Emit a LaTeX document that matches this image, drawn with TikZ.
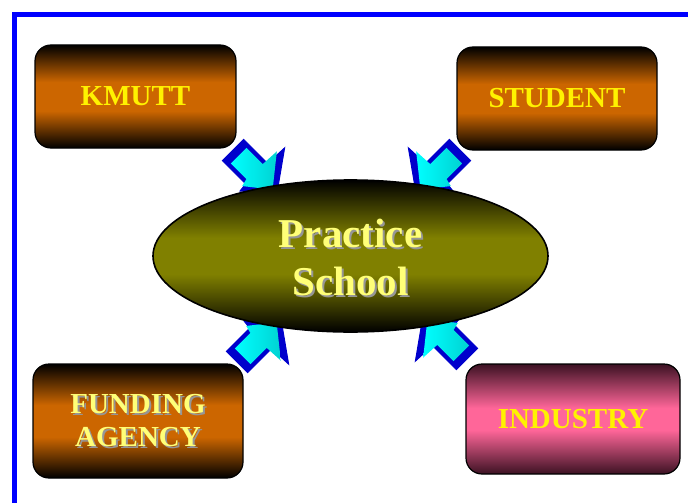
\documentclass[tikz,border=0pt]{standalone}
\usepackage{fontspec}
\setmainfont{Liberation Serif}
\definecolor{orng}{RGB}{204,102,0}
\definecolor{pnk}{RGB}{255,102,153}
\definecolor{maroon}{RGB}{60,18,35}
\definecolor{olivec}{RGB}{128,128,0}
\definecolor{lightyel}{RGB}{255,255,120}
\definecolor{shadowgray}{RGB}{150,150,150}
\definecolor{arrblue}{RGB}{0,0,204}
\pgfdeclareverticalshading{orangeband}{100bp}{color(0bp)=(black); color(25bp)=(black); color(43bp)=(orng); color(57bp)=(orng); color(75bp)=(black); color(100bp)=(black)}
\pgfdeclareverticalshading{pinkband}{100bp}{color(0bp)=(maroon); color(25bp)=(maroon); color(45bp)=(pnk); color(55bp)=(pnk); color(75bp)=(maroon); color(100bp)=(maroon)}
\pgfdeclareverticalshading{oliveband}{100bp}{color(0bp)=(black); color(25bp)=(black); color(44bp)=(olivec); color(56bp)=(olivec); color(75bp)=(black); color(100bp)=(black)}
\begin{document}
\begin{tikzpicture}[x=1pt,y=-1pt,
  boxbase/.style={draw=black, line width=1.2pt, rounded corners=16pt, inner sep=0pt, align=center,
     font=\fontsize{29}{33}\selectfont\bfseries},
  orangebox/.style={boxbase, shading=orangeband},
  pinkbox/.style={boxbase, shading=pinkband},
  arrowblue/.style={fill=arrblue, draw=arrblue},
  bigtext/.style={font=\fontsize{41}{48}\selectfont\bfseries, align=center},
  boxtext/.style={font=\fontsize{29}{33}\selectfont\bfseries, align=center},
]
\useasboundingbox (0,0) rectangle (688,503);
\clip (0,0) rectangle (688,503);
\fill[white] (0,0) rectangle (688,503);
% frame
\draw[blue, line width=5pt] (14.5,530) -- (14.5,14.5) -- (720,14.5);

\newcommand\pwarrow[4]{%
 \begin{scope}[shift={(#1,#2)},rotate=#3,yscale=#4]
   \filldraw[arrowblue, line width=1pt, line join=miter]
     (0,-15) -- (34,-15) -- (35,-38) -- (62,0) -- (34,24) -- (33,15) -- (0,15) -- cycle;
   \shade[left color=cyan, right color=cyan!65!teal]
     (8,-11) -- (31,-11) -- (32,-30) -- (56,0) -- (32,19) -- (30,11) -- (8,11) -- cycle;
 \end{scope}}
\pwarrow{233}{150}{-45}{1}
\pwarrow{460}{150}{-135}{-1}
\pwarrow{237}{362}{45}{-1}
\pwarrow{467}{359}{135}{1}

% ellipse
\path[draw=black, line width=1.6pt, shading=oliveband]
  (350.5,256) ellipse [x radius=197.5, y radius=76];
\node[bigtext, text=shadowgray] (psshadow) at (352.5,259) {Practice\\School};
\node[bigtext, text=lightyel] (ps) at (350.5,257) {Practice\\School};

% boxes
\node[orangebox, minimum width=201pt, minimum height=103pt, text=yellow] (kmutt) at (135.5,96.5) {KMUTT};
\node[orangebox, minimum width=200pt, minimum height=103pt, text=yellow] (student) at (557,98.5) {STUDENT};
\node[orangebox, minimum width=210pt, minimum height=114pt] (funding) at (138,421) {};
\node[boxtext, text=shadowgray] (fundshadow) at (140,423) {FUNDING\\AGENCY};
\node[boxtext, text=lightyel] (fundtext) at (138,421) {FUNDING\\AGENCY};
\node[pinkbox, minimum width=214pt, minimum height=110pt, text=yellow] (industry) at (573,419) {INDUSTRY};
\end{tikzpicture}
\end{document}
